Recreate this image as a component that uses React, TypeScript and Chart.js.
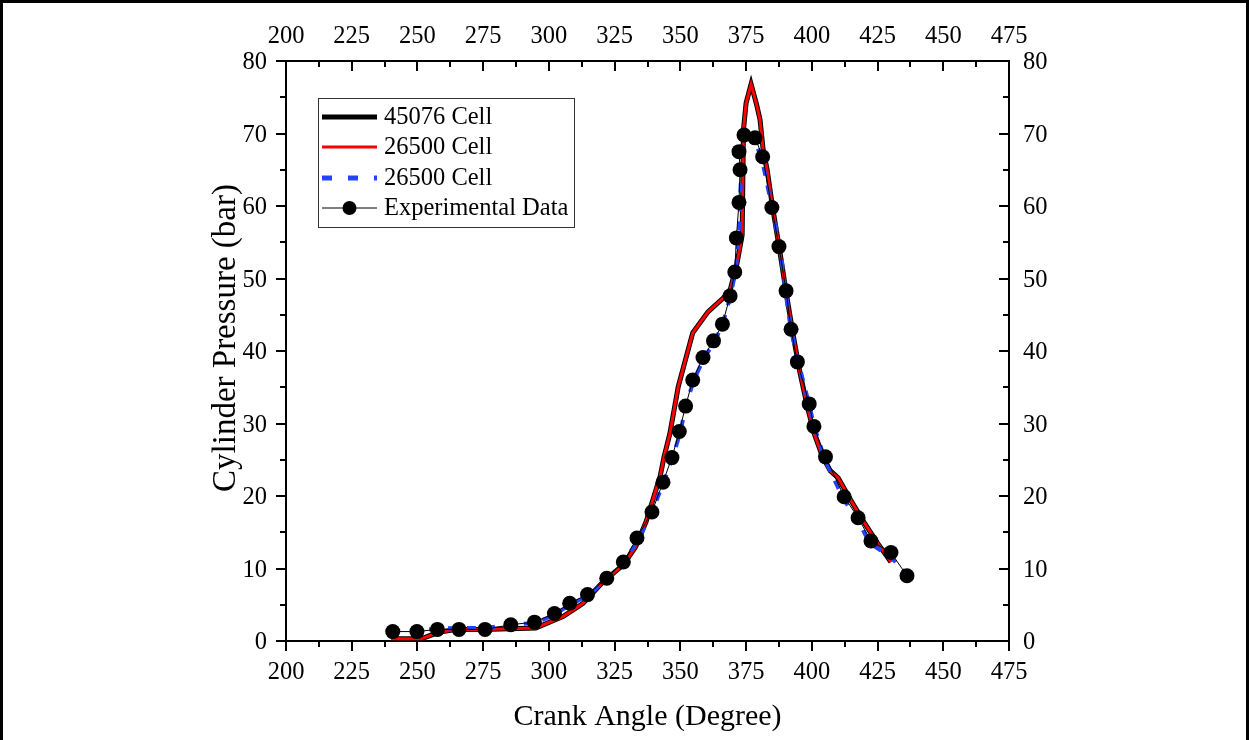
import React, { useEffect, useRef } from "react";
import { Chart, registerables } from "chart.js";

Chart.register(...registerables);

// ---- Data ----
const xTickLabels = [200, 225, 250, 275, 300, 325, 350, 375, 400, 425, 450, 475];
const yTickLabels = [0, 10, 20, 30, 40, 50, 60, 70, 80];

const xTitle = "Crank Angle (Degree)";
const yTitle = "Cylinder Pressure (bar)";
const seriesLabels = ["45076 Cell", "26500 Cell", "26500 Cell", "Experimental Data"];

const cell45076X = [240, 251.5, 258, 265, 275, 285, 295, 305.5, 313, 320.7, 328.3, 333, 337, 340, 342.3, 343.8, 346, 349.2, 354.7, 360.5, 366.3, 369, 371.5, 373.5, 374, 375, 376.9, 379, 380.3, 381.5, 383, 385, 387.5, 390.5, 393, 395.5, 398.5, 401, 404, 407, 410, 415, 420, 425, 430.1];
const cell45076Y = [0.3, 0.3, 1.2, 1.6, 1.6, 1.7, 1.8, 3.4, 5.2, 8.2, 10.5, 13.0, 16.5, 20.0, 22.7, 25.4, 28.6, 35.1, 42.5, 45.4, 47.3, 48.5, 52.0, 56.0, 70.5, 74.2, 76.8, 74.0, 71.9, 67.7, 65.0, 60.0, 54.5, 47.5, 42.0, 37.0, 32.0, 28.5, 25.5, 23.5, 22.5, 19.3, 16.3, 13.5, 10.9];

const cell26500X = [240, 251.5, 258, 265, 275, 285, 295, 305.5, 313, 320.7, 328.3, 333, 337, 340, 342.3, 343.8, 346, 349.2, 354.7, 360.5, 366.3, 369, 371.5, 373.5, 374, 375, 376.9, 379, 380.3, 381.5, 383, 385, 387.5, 390.5, 393, 395.5, 398.5, 401, 404, 407, 410, 415, 420, 425, 430.1];
const cell26500Y = [0.3, 0.3, 1.2, 1.6, 1.6, 1.7, 1.8, 3.4, 5.2, 8.2, 10.5, 13.0, 16.5, 20.0, 22.7, 25.4, 28.6, 35.1, 42.5, 45.4, 47.3, 48.5, 52.0, 56.0, 70.5, 74.2, 76.8, 74.0, 71.9, 67.7, 65.0, 60.0, 54.5, 47.5, 42.0, 37.0, 32.0, 28.5, 25.5, 23.5, 22.5, 19.3, 16.3, 13.5, 10.9];

const cell26500bX = [240, 250, 257, 266, 276, 285, 295, 302, 308, 315, 322, 328, 334, 339, 343.5, 347, 350, 352, 355, 359, 363, 366, 369, 371, 372.3, 373, 374.5, 378, 381, 385, 388, 390, 392, 395, 399, 401, 405, 412, 417.6, 422, 430, 436];
const cell26500bY = [1.4, 1.4, 1.7, 1.8, 1.8, 2.2, 2.5, 3.6, 5.0, 6.3, 8.5, 10.6, 14.0, 17.6, 21.8, 25.2, 28.8, 32.3, 35.9, 39.0, 41.3, 43.6, 47.5, 51.0, 56.0, 63.6, 69.6, 69.2, 66.5, 59.5, 54.2, 48.2, 43.0, 38.3, 32.6, 29.5, 25.0, 19.6, 16.6, 13.5, 11.6, 9.2];

const expX = [240.6, 249.8, 257.6, 265.8, 275.7, 285.5, 294.5, 302.1, 307.9, 314.7, 322.0, 328.3, 333.5, 339.2, 343.4, 346.8, 349.6, 352.0, 354.7, 358.6, 362.6, 366.0, 368.9, 370.7, 371.3, 372.3, 372.7, 372.3, 374.2, 378.4, 381.3, 384.8, 387.5, 390.2, 392.1, 394.5, 399.0, 400.8, 405.2, 412.3, 417.6, 422.5, 430.1, 436.2];
const expY = [1.3, 1.3, 1.6, 1.6, 1.6, 2.25, 2.6, 3.8, 5.2, 6.4, 8.65, 10.9, 14.2, 17.8, 21.9, 25.3, 28.9, 32.4, 36.0, 39.1, 41.4, 43.7, 47.6, 50.9, 55.6, 60.5, 65.0, 67.5, 69.8, 69.4, 66.8, 59.8, 54.4, 48.3, 43.0, 38.5, 32.7, 29.6, 25.4, 19.9, 17.0, 13.8, 12.2, 9.0];

const FONT = "'Liberation Serif', 'Times New Roman', serif";
const TICK_SIZE = 24.5;

const toPoints = (xs: number[], ys: number[]) => xs.map((x, i) => ({ x, y: ys[i] }));

const frameAndTicks = {
  id: "frameAndTicks",
  afterDraw(chart: any) {
    const ctx = chart.ctx;
    const { left, right, top, bottom } = chart.chartArea;
    const xs = chart.scales.x;
    const ys = chart.scales.y;
    ctx.save();
    ctx.strokeStyle = "#000";
    ctx.lineWidth = 2;
    ctx.beginPath();
    const xMin = xTickLabels[0];
    const xMax = xTickLabels[xTickLabels.length - 1];
    for (let v = xMin; v <= xMax + 0.001; v += 12.5) {
      const major = Math.abs((v - xMin) % 25) < 0.001;
      const len = major ? 10 : 6;
      const px = Math.round(xs.getPixelForValue(v));
      ctx.moveTo(px, bottom);
      ctx.lineTo(px, bottom + len);
      ctx.moveTo(px, top);
      ctx.lineTo(px, top + len);
    }
    const yMin = yTickLabels[0];
    const yMax = yTickLabels[yTickLabels.length - 1];
    for (let v = yMin; v <= yMax + 0.001; v += 5) {
      const major = v % 10 === 0;
      const len = major ? 10 : 6;
      const py = Math.round(ys.getPixelForValue(v));
      ctx.moveTo(left, py);
      ctx.lineTo(left - len, py);
      ctx.moveTo(right, py);
      ctx.lineTo(right - len, py);
    }
    ctx.stroke();

    // outer frame
    ctx.lineWidth = 3;
    ctx.strokeRect(1.5, 1.5, chart.width - 3, chart.height + 10);

    // y-axis title
    ctx.save();
    ctx.translate(226, 338);
    ctx.rotate(-Math.PI / 2);
    ctx.font = `33px ${FONT}`;
    ctx.fillStyle = "#000";
    ctx.textAlign = "center";
    ctx.textBaseline = "middle";
    ctx.fillText(yTitle, 0, 0);
    ctx.restore();

    // legend
    const bx = 318.5, by = 98.5, bw = 256, bh = 129;
    ctx.fillStyle = "#fff";
    ctx.fillRect(bx, by, bw, bh);
    ctx.lineWidth = 1;
    ctx.strokeStyle = "#333";
    ctx.strokeRect(bx, by, bw, bh);
    const rows = [117, 147, 178, 208];
    const x0 = 322, x1 = 377;
    ctx.font = `${TICK_SIZE}px ${FONT}`;
    ctx.textBaseline = "middle";
    ctx.textAlign = "left";
    chart.data.datasets.forEach((ds: any, i: number) => {
      const ry = rows[i];
      ctx.save();
      ctx.strokeStyle = ds.borderColor;
      ctx.lineWidth = i === 0 ? 5 : i === 1 ? 3 : i === 2 ? 5 : 1;
      if (ds.borderDash && ds.borderDash.length) ctx.setLineDash([10, 16]);
      ctx.beginPath();
      ctx.moveTo(x0, ry);
      ctx.lineTo(x1, ry);
      ctx.stroke();
      ctx.restore();
      if (i === 3) {
        ctx.fillStyle = "#000";
        ctx.beginPath();
        ctx.arc((x0 + x1) / 2, ry, 7, 0, Math.PI * 2);
        ctx.fill();
      }
      ctx.fillStyle = "#000";
      ctx.fillText(ds.label, 384, ry + 1);
    });
    ctx.restore();
  },
};

export default function App() {
  const ref = useRef<HTMLCanvasElement>(null);
  useEffect(() => {
    if (!ref.current) return;
    Chart.defaults.font.family = FONT;
    const tickFont = { size: TICK_SIZE, family: FONT };
    const chart = new Chart(ref.current, {
      type: "line",
      data: {
        datasets: [
          {
            label: seriesLabels[0],
            data: toPoints(cell45076X, cell45076Y),
            borderColor: "#000000",
            borderWidth: 5,
            pointRadius: 0,
            tension: 0,
            order: 3,
          },
          {
            label: seriesLabels[1],
            data: toPoints(cell26500X, cell26500Y),
            borderColor: "#ff0000",
            borderWidth: 3,
            pointRadius: 0,
            tension: 0,
            order: 2,
          },
          {
            label: seriesLabels[2],
            data: toPoints(cell26500bX, cell26500bY),
            borderColor: "#2244ff",
            borderWidth: 4,
            borderDash: [9, 10],
            pointRadius: 0,
            tension: 0,
            order: 1,
          },
          {
            label: seriesLabels[3],
            data: toPoints(expX, expY),
            borderColor: "#000000",
            borderWidth: 1,
            pointRadius: 7.5,
            pointBackgroundColor: "#000000",
            pointBorderWidth: 0,
            tension: 0,
            order: 0,
          },
        ] as any,
      },
      options: {
        responsive: false,
        animation: false,
        devicePixelRatio: 1,
        layout: { padding: 0 },
        plugins: { legend: { display: false }, tooltip: { enabled: false } },
        scales: {
          x: {
            type: "linear",
            position: "bottom",
            min: xTickLabels[0],
            max: xTickLabels[xTickLabels.length - 1],
            afterBuildTicks: (s: any) => {
              s.ticks = xTickLabels.map((v) => ({ value: v }));
            },
            afterFit: (s: any) => {
              s.height = 99;
            },
            ticks: { font: tickFont, color: "#000", padding: 17, maxRotation: 0, autoSkip: false },
            grid: { display: false, drawTicks: false },
            border: { display: true, color: "#000", width: 2 },
            title: {
              display: true,
              text: xTitle,
              font: { size: 30, family: FONT },
              color: "#000",
              padding: { top: 0, bottom: 5 },
            },
          },
          x2: {
            type: "linear",
            position: "top",
            min: xTickLabels[0],
            max: xTickLabels[xTickLabels.length - 1],
            afterBuildTicks: (s: any) => {
              s.ticks = xTickLabels.map((v) => ({ value: v }));
            },
            afterFit: (s: any) => {
              s.height = 61;
            },
            ticks: { font: tickFont, color: "#000", padding: 10, maxRotation: 0, autoSkip: false },
            grid: { display: false, drawTicks: false },
            border: { display: true, color: "#000", width: 2 },
          },
          y: {
            type: "linear",
            position: "left",
            min: yTickLabels[0],
            max: yTickLabels[yTickLabels.length - 1],
            afterBuildTicks: (s: any) => {
              s.ticks = yTickLabels.map((v) => ({ value: v }));
            },
            afterFit: (s: any) => {
              s.width = 286;
            },
            ticks: { font: tickFont, color: "#000", padding: 19, labelOffset: 2, autoSkip: false },
            grid: { display: false, drawTicks: false },
            border: { display: true, color: "#000", width: 2 },
          },
          y2: {
            type: "linear",
            position: "right",
            min: yTickLabels[0],
            max: yTickLabels[yTickLabels.length - 1],
            afterBuildTicks: (s: any) => {
              s.ticks = yTickLabels.map((v) => ({ value: v }));
            },
            afterFit: (s: any) => {
              s.width = 240;
            },
            ticks: { font: tickFont, color: "#000", padding: 14, labelOffset: 2, autoSkip: false },
            grid: { display: false, drawTicks: false },
            border: { display: true, color: "#000", width: 2 },
          },
        } as any,
      },
      plugins: [frameAndTicks],
    });
    return () => chart.destroy();
  }, []);
  return (
    <div style={{ position: "fixed", left: 0, top: 0, width: 1249, height: 740, background: "#fff" }}>
      <canvas ref={ref} width={1249} height={740} style={{ display: "block", width: 1249, height: 740 }} />
    </div>
  );
}
